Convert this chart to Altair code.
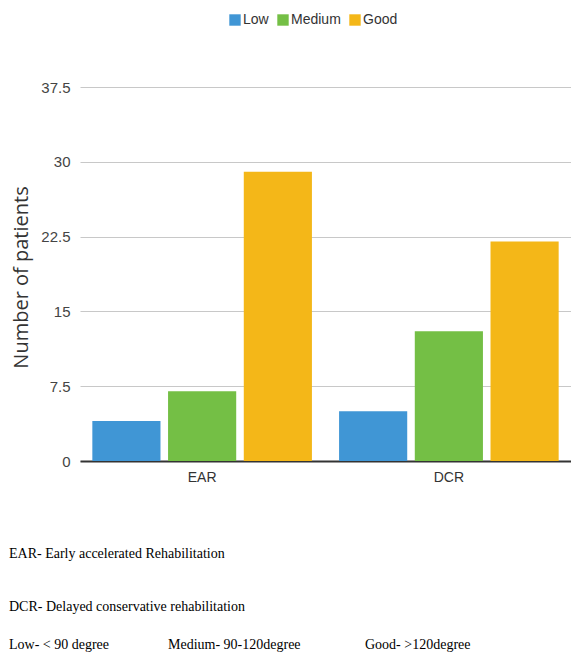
import altair as alt
import pandas as pd

groups = ["EAR", "DCR"]
levels = ["Low", "Medium", "Good"]
ear_values = [4, 7, 29]
dcr_values = [5, 13, 22]
colors = ["#4096d5", "#74bf45", "#f4b718"]
y_ticks = [0, 7.5, 15, 22.5, 30, 37.5]
notes = [
    "EAR- Early accelerated Rehabilitation",
    "DCR- Delayed conservative rehabilitation",
    "Low- < 90 degree",
    "Medium- 90-120degree",
    "Good- >120degree",
]

rows = []
for g, vals in zip(groups, [ear_values, dcr_values]):
    for lv, v in zip(levels, vals):
        rows.append({"group": g, "level": lv, "value": v})
df = pd.DataFrame(rows)

bars = alt.Chart(df).mark_bar().encode(
    x=alt.X("group:N", sort=groups,
            scale=alt.Scale(paddingInner=0.11, paddingOuter=0.05),
            axis=alt.Axis(title=None, labelAngle=0, labelFont="Liberation Sans",
                          labelFontSize=14, labelColor="#333333", labelPadding=9,
                          ticks=False, domain=True, domainColor="#333333",
                          domainWidth=2, grid=False)),
    xOffset=alt.XOffset("level:N", sort=levels,
                        scale=alt.Scale(paddingInner=0.1, paddingOuter=0)),
    y=alt.Y("value:Q",
            scale=alt.Scale(domain=[0, 37.5], nice=False),
            axis=alt.Axis(title="Number of patients", values=y_ticks,
                          format=".1~f",
                          labelFont="Liberation Sans", labelFontSize=15,
                          labelColor="#444444", labelPadding=10,
                          ticks=False, domain=False, grid=True,
                          gridColor="#c8c8c8", gridWidth=1,
                          titleFont="Open Sans", titleFontSize=20,
                          titleFontWeight="normal", titleColor="#333333",
                          titleAngle=270, titleX=-59, titleY=190,
                          titleAlign="center", titleBaseline="middle")),
    color=alt.Color("level:N", sort=levels,
                    scale=alt.Scale(domain=levels, range=colors),
                    legend=alt.Legend(title=None, orient="none", legendX=148,
                                      legendY=-74, direction="horizontal",
                                      symbolType="square", symbolSize=130,
                                      symbolStrokeWidth=0, labelOffset=1,
                                      columnPadding=7,
                                      labelFont="Liberation Sans",
                                      labelFontSize=14, labelColor="#333333")),
)

note_pos = [(-71, 467), (-71, 520), (-71, 558), (88, 558), (285, 558)]
layers = [bars]
for note, (px, py) in zip(notes, note_pos):
    layers.append(
        alt.Chart(pd.DataFrame({"t": [note]})).mark_text(
            align="left", baseline="middle", font="Liberation Serif",
            fontSize=14, color="#000000"
        ).encode(x=alt.value(px), y=alt.value(py), text="t:N")
    )

chart = alt.layer(*layers).properties(
    width=491, height=374,
    autosize=alt.AutoSizeParams(type="none"),
    padding={"left": 72, "top": 79, "right": 0, "bottom": 195},
).configure_view(stroke=None)

chart.save("out.html", embed_options={"renderer": "svg", "actions": False})
